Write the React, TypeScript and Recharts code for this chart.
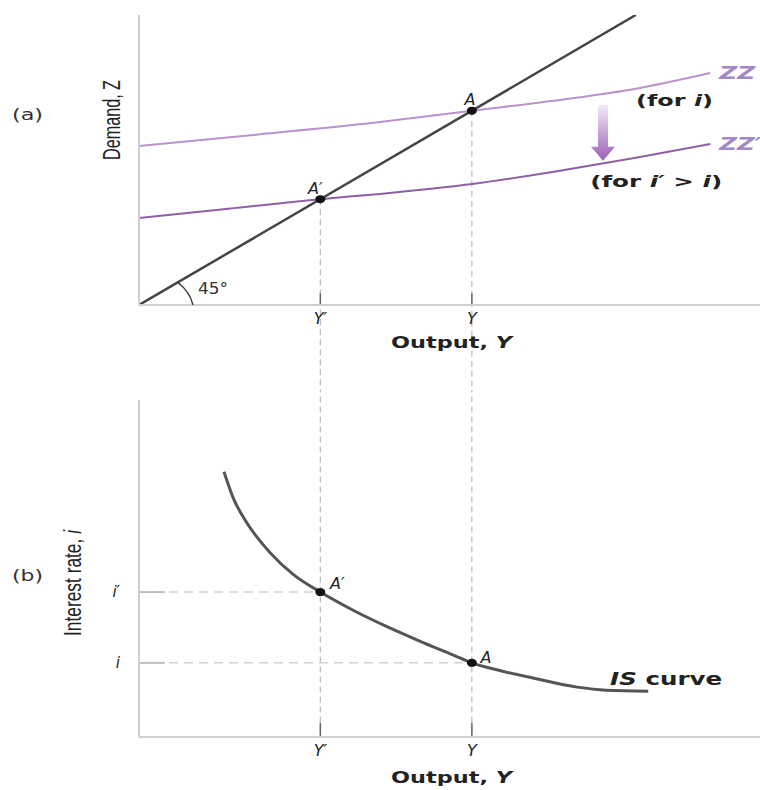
import React from 'react';
import { LineChart, Line, XAxis, YAxis, ReferenceLine, ReferenceDot } from 'recharts';

// ---- data ----
const outputTicks = [36.5, 67];
const outputTickLabels = ['Y′', 'Y'];
const rateTicks = [22, 43];
const rateTickLabels = ['i', 'i′'];

const diagonal = [
  { x: 0, v: 0 },
  { x: 100, v: 100 },
];
const zzForI = [
  { x: 0, v: 54.8 },
  { x: 24, v: 58.8 },
  { x: 48.5, v: 63.1 },
  { x: 67, v: 67 },
  { x: 85, v: 70.8 },
  { x: 100, v: 74.6 },
  { x: 115, v: 80 },
];
const zzForIPrime = [
  { x: 0, v: 30 },
  { x: 18, v: 33.2 },
  { x: 36.5, v: 36.5 },
  { x: 48.5, v: 38.3 },
  { x: 67, v: 41.7 },
  { x: 85, v: 46.4 },
  { x: 100, v: 50.8 },
  { x: 115, v: 55.5 },
];
const isCurve = [
  { x: 17.1, v: 78.7 },
  { x: 19, v: 70.8 },
  { x: 21.7, v: 63.6 },
  { x: 26.4, v: 54.7 },
  { x: 31.1, v: 48.2 },
  { x: 36.5, v: 43 },
  { x: 43.1, v: 37.6 },
  { x: 49.8, v: 32.8 },
  { x: 56.6, v: 28.4 },
  { x: 63.3, v: 24.3 },
  { x: 67, v: 22 },
  { x: 73, v: 19.6 },
  { x: 79.3, v: 17.5 },
  { x: 88.2, v: 14.8 },
  { x: 94, v: 13.9 },
  { x: 102.5, v: 13.6 },
];
const equilibriumOutput = [36.5, 67]; // Y', Y
const equilibriumDemand = [36.5, 67]; // A', A on 45° line
const equilibriumRate = [43, 22]; // i', i

// ---- styles ----
const axisGray = '#cfcfcf';
const dashGray = '#b8b8b8';
const sans = "'Liberation Sans', Arial, sans-serif";
const wide = "'DejaVu Sans', 'Liberation Sans', sans-serif";

const dotShape = (p: any) => <ellipse cx={p.cx} cy={p.cy} rx={5} ry={4} fill="#111" />;

const textShape = (content: React.ReactNode, dx: number, dy: number, extra: any = {}) => (p: any) => (
  <text x={p.cx + dx} y={p.cy + dy} fontFamily={sans} fontSize={15} fill="#222" {...extra}>
    {content}
  </text>
);

const xTick = (p: any) => {
  const idx = outputTicks.indexOf(p.payload.value);
  return (
    <text x={p.x} y={p.y + 19} textAnchor="middle" fontFamily={wide} fontStyle="italic" fontSize={16} fill="#222">
      {outputTickLabels[idx]}
    </text>
  );
};

const yTickRate = (p: any) => {
  const idx = rateTicks.indexOf(p.payload.value);
  return (
    <text x={p.x - 19} y={p.y + 5} textAnchor="end" fontFamily={wide} fontStyle="italic" fontSize={15} fill="#222">
      {rateTickLabels[idx]}
    </text>
  );
};

const outputLabel = (dy: number) => (p: any) => {
  const vb = p.viewBox;
  return (
    <text x={vb.x + 252} y={vb.y + dy} fontFamily={wide} fontWeight="bold" fontSize={15} textLength={121} lengthAdjust="spacingAndGlyphs" fill="#222">
      Output, <tspan fontStyle="italic">Y</tspan>
    </text>
  );
};

const topYLabel = (p: any) => {
  const vb = p.viewBox;
  const cx = vb.x + vb.width - 27;
  const cy = vb.y + 105;
  return (
    <g>
      <text x={12} y={vb.y + 105} fontFamily={wide} fontSize={16} textLength={31} lengthAdjust="spacingAndGlyphs" fill="#333">(a)</text>
      <text x={cx - 40} y={cy} transform={`rotate(-90 ${cx} ${cy})`} dy={8} fontFamily={sans} fontSize={23} textLength={80} lengthAdjust="spacingAndGlyphs" fill="#222">
        Demand, Z
      </text>
    </g>
  );
};

const bottomYLabel = (p: any) => {
  const vb = p.viewBox;
  const cx = 73;
  const cy = vb.y + 183;
  return (
    <g>
      <text x={12} y={vb.y + 181} fontFamily={wide} fontSize={16} textLength={31} lengthAdjust="spacingAndGlyphs" fill="#333">(b)</text>
      <text x={cx - 53} y={cy} transform={`rotate(-90 ${cx} ${cy})`} dy={8} fontFamily={sans} fontSize={23} textLength={106} lengthAdjust="spacingAndGlyphs" fill="#222">
        Interest rate, <tspan fontStyle="italic">i</tspan>
      </text>
    </g>
  );
};

const arrowShape = (p: any) => {
  const { x1, y1, y2 } = p;
  const cx = x1;
  const headTop = y2 - 14;
  return (
    <g>
      <defs>
        <linearGradient id="shiftGrad" x1="0" y1="0" x2="0" y2="1">
          <stop offset="0%" stopColor="#f3eaf6" />
          <stop offset="100%" stopColor="#9a60b6" />
        </linearGradient>
      </defs>
      <path
        d={`M${cx - 5},${y1} L${cx + 5},${y1} L${cx + 5},${headTop} L${cx + 12},${headTop} L${cx},${y2} L${cx - 12},${headTop} L${cx - 5},${headTop} Z`}
        fill="url(#shiftGrad)"
      />
    </g>
  );
};

const angleShape = (p: any) => {
  const { cx, cy } = p;
  return (
    <g>
      <path d={`M${cx + 39},${cy - 22.5} Q${cx + 51},${cy - 13} ${cx + 54},${cy}`} fill="none" stroke="#333" strokeWidth={1.3} />
      <text x={cx + 59} y={cy - 11} fontFamily={wide} fontSize={15} textLength={30} lengthAdjust="spacingAndGlyphs" fill="#333">45°</text>
    </g>
  );
};

const boldWide = { fontWeight: 'bold', fontFamily: wide, lengthAdjust: 'spacingAndGlyphs' };

export default function App() {
  return (
    <div style={{ position: 'absolute', left: 0, top: 0, width: 760, height: 790, background: '#fff' }}>
      {/* Panel (a) */}
      <div style={{ position: 'absolute', left: 0, top: 0 }}>
        <LineChart width={760} height={390} margin={{ top: 15, right: 0, left: 0, bottom: 0 }}>
          <XAxis
            type="number"
            dataKey="x"
            domain={[0, 125]}
            ticks={outputTicks}
            allowDataOverflow
            height={85}
            tickSize={0}
            tickMargin={0}
            tickLine={false}
            tick={xTick}
            axisLine={{ stroke: axisGray, strokeWidth: 2 }}
            label={{ content: outputLabel(43) }}
          />
          <YAxis
            type="number"
            dataKey="v"
            domain={[0, 100]}
            allowDataOverflow
            width={139}
            tick={false}
            tickLine={false}
            axisLine={{ stroke: axisGray, strokeWidth: 2 }}
            label={{ content: topYLabel }}
          />
          {equilibriumOutput.map((xv, k) => (
            <ReferenceLine
              key={'vd' + k}
              segment={[{ x: xv, y: equilibriumDemand[k] }, { x: xv, y: -31 }]}
              stroke={dashGray}
              strokeWidth={1.2}
              strokeDasharray="6 4"
              ifOverflow="visible"
            />
          ))}
          {equilibriumOutput.map((xv, k) => (
            <ReferenceLine
              key={'vt' + k}
              segment={[{ x: xv, y: 0 }, { x: xv, y: 4 }]}
              stroke="#666"
              strokeWidth={1.5}
              ifOverflow="visible"
            />
          ))}
          <Line data={zzForI} dataKey="v" type="monotone" stroke="#b994cc" strokeWidth={2} dot={false} isAnimationActive={false} />
          <Line data={zzForIPrime} dataKey="v" type="monotone" stroke="#8f5fa8" strokeWidth={2} dot={false} isAnimationActive={false} />
          <Line data={diagonal} dataKey="v" type="linear" stroke="#444" strokeWidth={2.5} dot={false} isAnimationActive={false} />
          <ReferenceLine segment={[{ x: 93.4, y: 69 }, { x: 93.4, y: 49.7 }]} shape={arrowShape} ifOverflow="visible" />
          <ReferenceDot x={0} y={0} r={0} shape={angleShape} ifOverflow="visible" />
          {equilibriumOutput.map((xv, k) => (
            <ReferenceDot key={'d' + k} x={xv} y={equilibriumDemand[k]} r={4} shape={dotShape} />
          ))}
          <ReferenceDot x={equilibriumOutput[0]} y={equilibriumDemand[0]} r={0}
            shape={textShape('A′', -5, -5, { fontStyle: 'italic', textAnchor: 'middle', fontSize: 16, fontFamily: wide })} />
          <ReferenceDot x={equilibriumOutput[1]} y={equilibriumDemand[1]} r={0}
            shape={textShape('A', -2, -6, { fontStyle: 'italic', textAnchor: 'middle', fontSize: 16, fontFamily: wide })} />
          <ReferenceDot x={115} y={80} r={0}
            shape={textShape('ZZ', 9, 6, { ...boldWide, fontStyle: 'italic', fill: '#a288c4', fontSize: 17, textLength: 36 })} />
          <ReferenceDot x={115} y={55.5} r={0}
            shape={textShape('ZZ′', 9, 6, { ...boldWide, fontStyle: 'italic', fill: '#a288c4', fontSize: 17, textLength: 42 })} />
          <ReferenceDot x={107.7} y={70.7} r={0}
            shape={textShape(<>(for <tspan fontStyle="italic">i</tspan>)</>, -38, 6, { ...boldWide, fontSize: 16, textLength: 77 })} />
          <ReferenceDot x={104.1} y={42.8} r={0}
            shape={textShape(<>(for <tspan fontStyle="italic">i′</tspan> &gt; <tspan fontStyle="italic">i</tspan>)</>, -66, 6, { ...boldWide, fontSize: 16, textLength: 132 })} />
        </LineChart>
      </div>

      {/* Panel (b) */}
      <div style={{ position: 'absolute', left: 0, top: 390 }}>
        <LineChart width={760} height={400} margin={{ top: 10, right: 0, left: 0, bottom: 0 }}>
          <XAxis
            type="number"
            dataKey="x"
            domain={[0, 125]}
            ticks={outputTicks}
            allowDataOverflow
            height={53}
            tickSize={0}
            tickMargin={0}
            tickLine={false}
            tick={xTick}
            axisLine={{ stroke: axisGray, strokeWidth: 2 }}
            label={{ content: outputLabel(46) }}
          />
          <YAxis
            type="number"
            dataKey="v"
            domain={[0, 100]}
            ticks={rateTicks}
            allowDataOverflow
            width={139}
            tickSize={0}
            tickMargin={0}
            tickLine={false}
            tick={yTickRate}
            axisLine={{ stroke: axisGray, strokeWidth: 2 }}
            label={{ content: bottomYLabel }}
          />
          {equilibriumOutput.map((xv, k) => (
            <ReferenceLine
              key={'vd' + k}
              segment={[{ x: xv, y: 104 }, { x: xv, y: 0 }]}
              stroke={dashGray}
              strokeWidth={1.2}
              strokeDasharray="6 4"
              ifOverflow="visible"
            />
          ))}
          {equilibriumOutput.map((xv, k) => (
            <ReferenceLine
              key={'vt' + k}
              segment={[{ x: xv, y: 0 }, { x: xv, y: 4.2 }]}
              stroke="#666"
              strokeWidth={1.5}
              ifOverflow="visible"
            />
          ))}
          {equilibriumRate.map((yv, k) => (
            <ReferenceLine
              key={'hd' + k}
              segment={[{ x: 0, y: yv }, { x: equilibriumOutput[k], y: yv }]}
              stroke="#d2d2d2"
              strokeWidth={1.5}
              strokeDasharray="9 6"
              ifOverflow="visible"
            />
          ))}
          {equilibriumRate.map((yv, k) => (
            <ReferenceLine
              key={'ht' + k}
              segment={[{ x: 0, y: yv }, { x: 5.2, y: yv }]}
              stroke="#bbbbbb"
              strokeWidth={1.8}
              ifOverflow="visible"
            />
          ))}
          <Line data={isCurve} dataKey="v" type="monotone" stroke="#555" strokeWidth={3} dot={false} isAnimationActive={false} />
          {equilibriumOutput.map((xv, k) => (
            <ReferenceDot key={'d' + k} x={xv} y={equilibriumRate[k]} r={4} shape={dotShape} />
          ))}
          <ReferenceDot x={equilibriumOutput[0]} y={equilibriumRate[0]} r={0}
            shape={textShape('A′', 17, -3, { fontStyle: 'italic', textAnchor: 'middle', fontSize: 16, fontFamily: wide })} />
          <ReferenceDot x={equilibriumOutput[1]} y={equilibriumRate[1]} r={0}
            shape={textShape('A', 14, 0, { fontStyle: 'italic', textAnchor: 'middle', fontSize: 16, fontFamily: wide })} />
          <ReferenceDot x={106.1} y={17.5} r={0}
            shape={textShape(<><tspan fontStyle="italic">IS</tspan> curve</>, -56, 7, { ...boldWide, fontSize: 17, textLength: 112 })} />
        </LineChart>
      </div>
    </div>
  );
}
